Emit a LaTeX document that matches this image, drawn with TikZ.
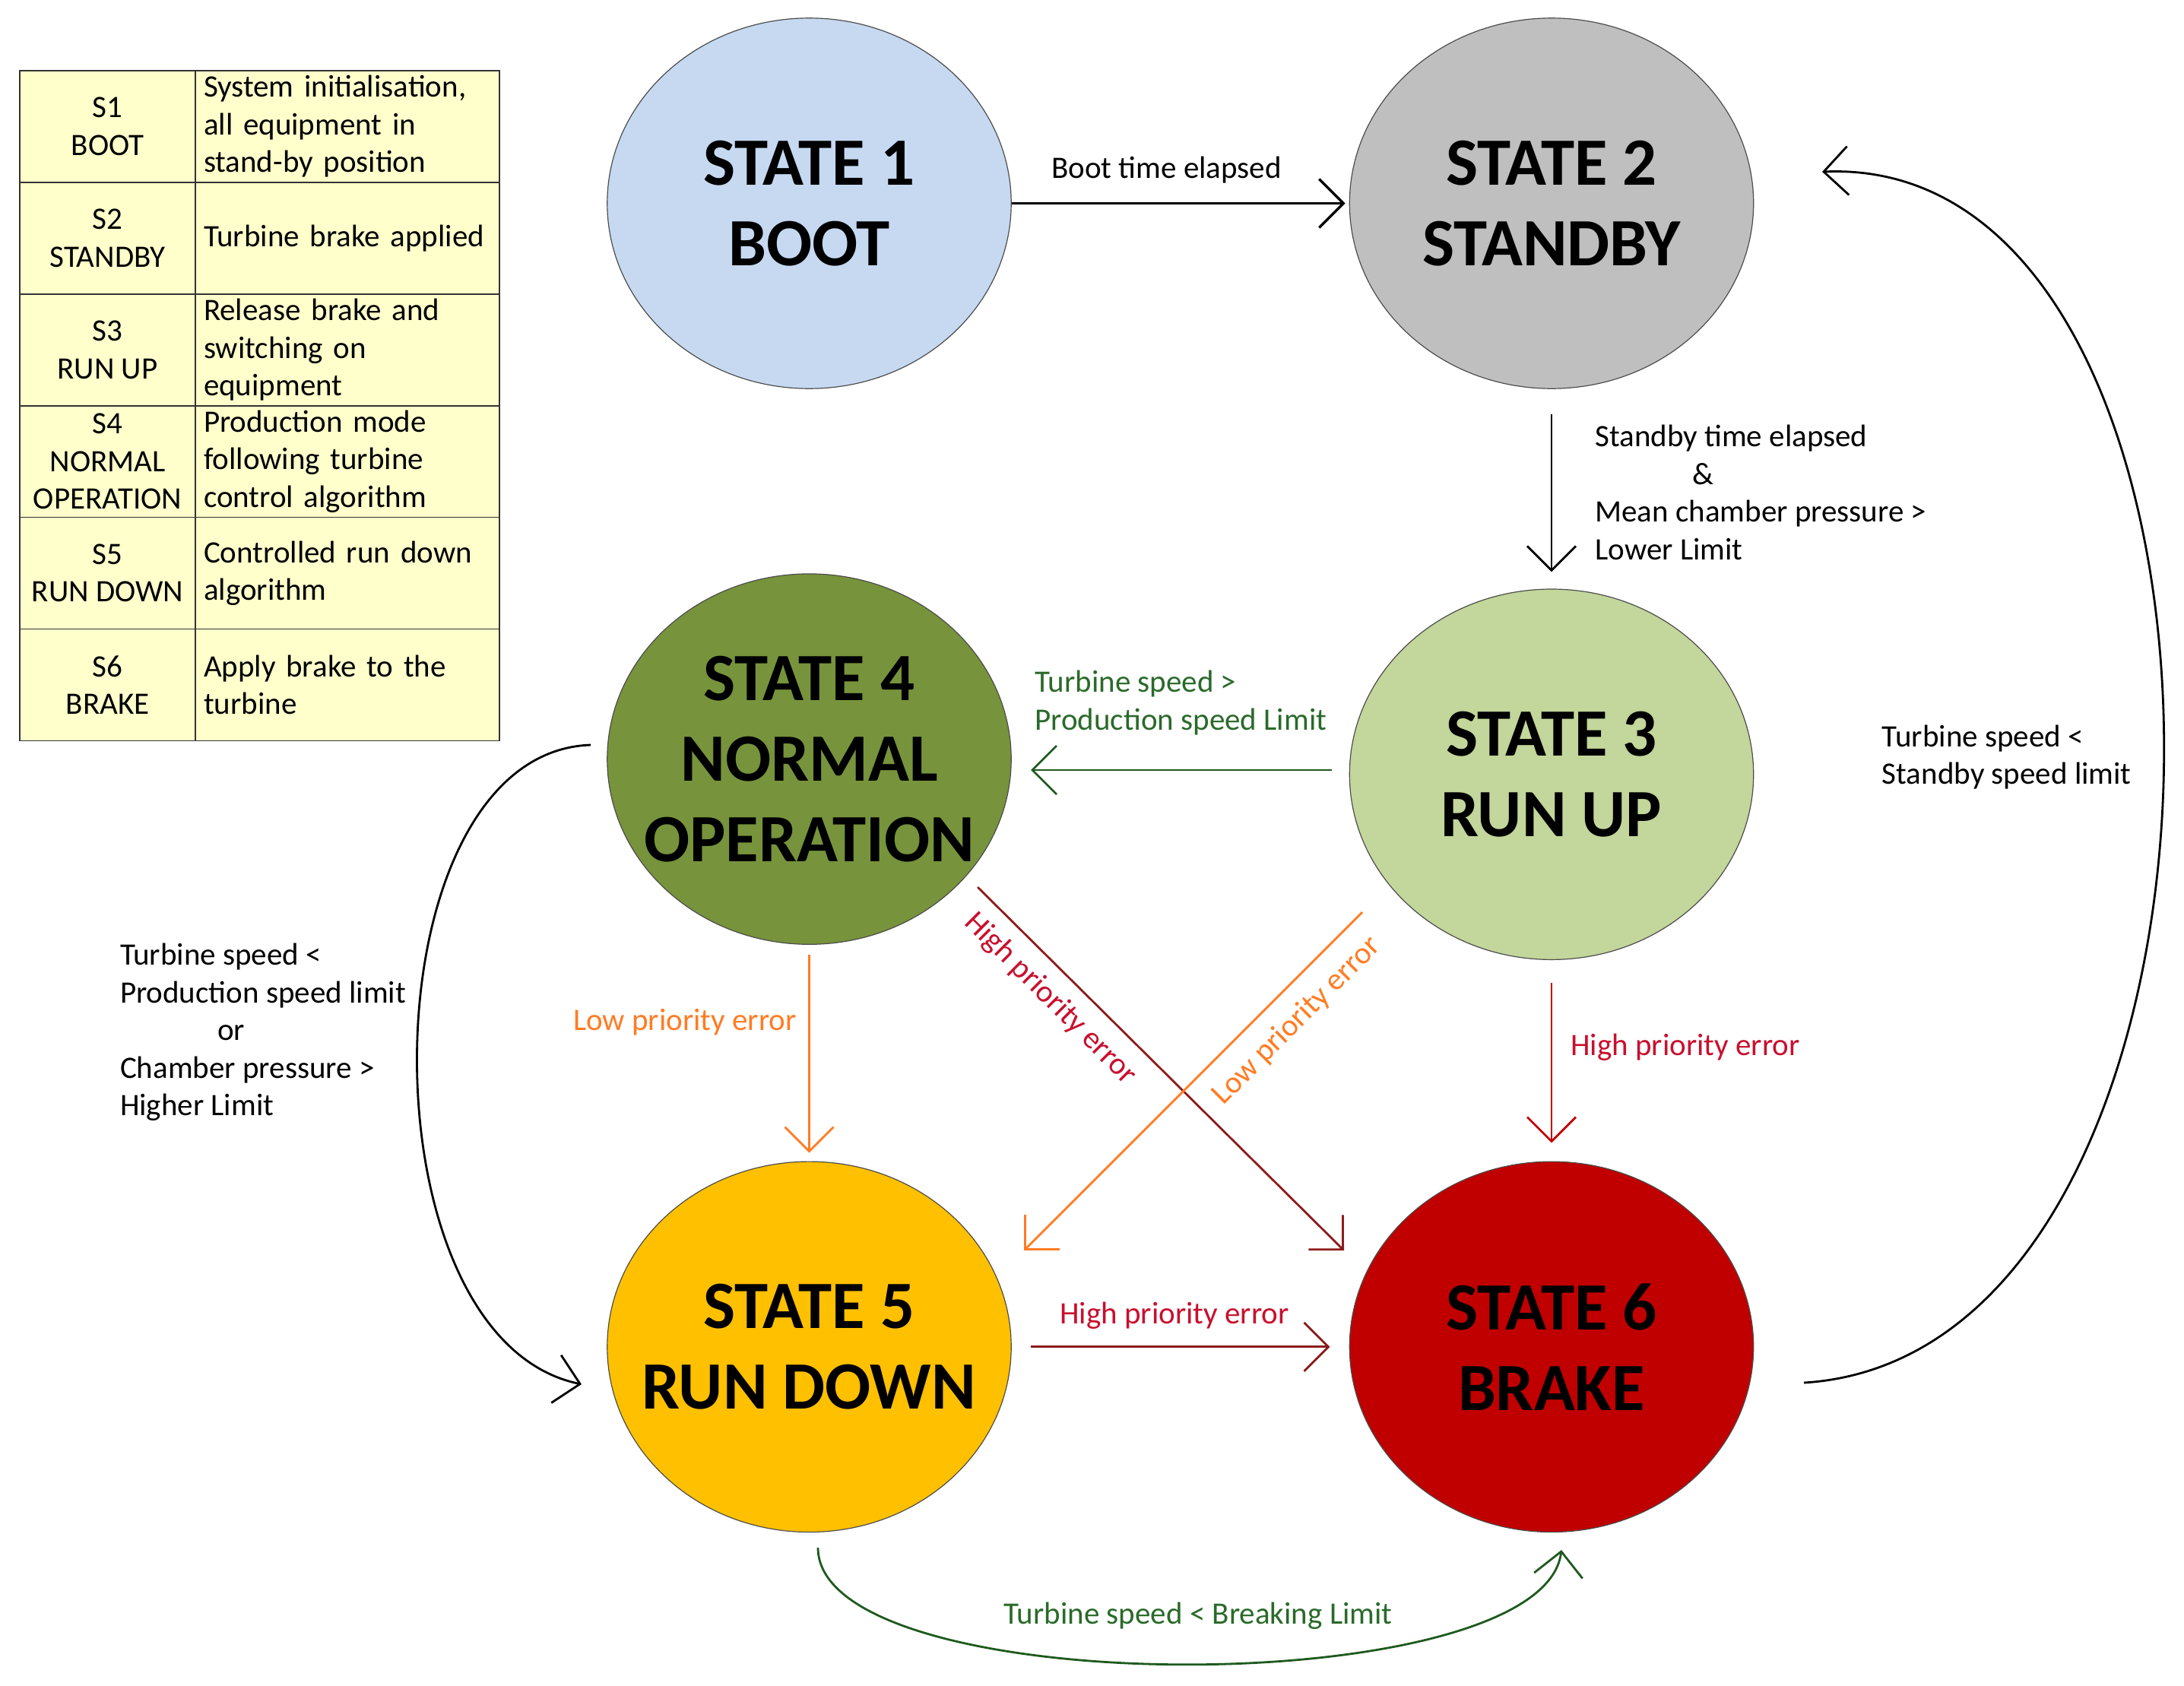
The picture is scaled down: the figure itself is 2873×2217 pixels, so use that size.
\documentclass[tikz,border=0pt]{standalone}
\usepackage{fontspec}
\setmainfont{Carlito}
\usetikzlibrary{shapes.geometric,arrows.meta,calc}
\definecolor{cBoot}{HTML}{C6D9F1}
\definecolor{cStandby}{HTML}{BFBFBF}
\definecolor{cRunUp}{HTML}{C3D69B}
\definecolor{cNormal}{HTML}{77933C}
\definecolor{cRunDown}{HTML}{FFC000}
\definecolor{cBrake}{HTML}{C00000}
\definecolor{tabfill}{HTML}{FFFFCC}
\definecolor{cOrange}{HTML}{FF7C24}
\definecolor{cMaroon}{HTML}{8C1C1C}
\definecolor{cRedTxt}{HTML}{C8102E}
\definecolor{cGreenLine}{HTML}{1E5A1E}
\definecolor{cGreenTxt}{HTML}{2A6A2A}
\begin{document}
\begin{tikzpicture}[x=0.5pt,y=-0.5pt,
  state/.style={ellipse, draw=black!70, line width=0.6pt, minimum width=265.7pt, minimum height=243.7pt, inner xsep=-70pt, inner ysep=0pt, align=center, font=\bfseries\fontsize{44.5}{53}\selectfont},
  lbl/.style={font=\fontsize{20.5}{24.7}\selectfont, inner sep=0pt},
  arr/.style={-{Straight Barb[length=16pt,width=32pt]}, line width=1.4pt},
  cellL/.style={draw=black!80, line width=0.8pt, fill=tabfill, minimum width=115.5pt, minimum height=73.45pt, inner sep=0pt, align=center, font=\fontsize{20.5}{24.7}\selectfont},
  cellR/.style={draw=black!80, line width=0.8pt, fill=tabfill, minimum width=200pt, minimum height=73.45pt, text width=189pt, inner sep=0pt, align=left, font=\fontsize{20.5}{24.7}\selectfont}
]
\useasboundingbox (0,0) rectangle (2873,2217);

% legend table
\node[cellL] (t1a) at (141.5,166.45) {S1\\BOOT};
\node[cellR] (t1b) at (457,166.45) {System initialisation,\\all equipment in\\stand-by position};
\node[cellL] (t2a) at (141.5,313.35) {S2\\STANDBY};
\node[cellR] (t2b) at (457,313.35) {Turbine brake applied};
\node[cellL] (t3a) at (141.5,460.25) {S3\\RUN UP};
\node[cellR] (t3b) at (457,460.25) {Release brake and\\switching on\\equipment};
\node[cellL] (t4a) at (141.5,607.15) {S4\\NORMAL\\OPERATION};
\node[cellR] (t4b) at (457,607.15) {Production mode\\following turbine\\control algorithm};
\node[cellL] (t5a) at (141.5,754.05) {S5\\RUN DOWN};
\node[cellR] (t5b) at (457,754.05) {Controlled run down\\algorithm};
\node[cellL] (t6a) at (141.5,900.95) {S6\\BRAKE};
\node[cellR] (t6b) at (457,900.95) {Apply brake to the\\turbine};

% states
\node[state, fill=cBoot] (s1) at (1064.5,267.5) {STATE 1\\BOOT};
\node[state, fill=cStandby] (s2) at (2041,267.5) {STATE 2\\STANDBY};
\node[state, fill=cRunUp] (s3) at (2041,1018.7) {STATE 3\\RUN UP};
\node[state, fill=cNormal] (s4) at (1064.5,998.6) {STATE 4\\NORMAL\\OPERATION};
\node[state, fill=cRunDown] (s5) at (1064.5,1771.8) {STATE 5\\RUN DOWN};
\node[state, fill=cBrake] (s6) at (2041,1771.8) {STATE 6\\BRAKE};

% straight transitions
\draw[arr, line width=1.7pt, shorten >=2.5pt] (s1) -- (s2);
\draw[arr, shorten <=16.5pt, shorten >=11pt] (s2) -- (s3);
\draw[arr, cGreenLine] ([shift={(-289,-5.7)}]s3.center) -- ([shift={(291.5,14.4)}]s4.center);
\draw[arr, cOrange, shorten <=6.4pt, shorten >=5.5pt] (s4) -- (s5);
\draw[arr, cMaroon] ([shift={(221.5,168.4)}]s4.center) -- ([shift={(-273,-126.8)}]s6.center);
\draw[arr, cOrange] ([shift={(-249,181.3)}]s3.center) -- ([shift={(282.5,-126.8)}]s5.center);
\draw[arr, cBrake, shorten <=14.8pt, shorten >=12pt] (s3) -- (s6);
\draw[arr, cMaroon, shorten <=12.4pt, shorten >=12.6pt] (s5) -- (s6);

% curved transitions
\draw[arr] ([shift={(-287.5,-18.6)}]s4.center) .. controls (480,990) and (470,1760) .. ([shift={(-299.5,49.2)}]s5.center);
\draw[arr] ([shift={(332,47.2)}]s6.center) .. controls (3000,1780) and (3000,200) .. ([shift={(356,-41.5)}]s2.center);
\draw[arr, cGreenLine] ([shift={(11.5,264.2)}]s5.center) .. controls (1076,2240) and (2030,2240) .. ([shift={(13,267.2)}]s6.center);

% labels
\node[lbl] (l12) at (1534.5,223.5) {Boot time elapsed};
\node[lbl, anchor=west, align=left] (l23) at (2098,648) {Standby time elapsed\\\hspace*{64pt}\&\\Mean chamber pressure >\\Lower Limit};
\node[lbl, anchor=west, align=left, text=cGreenTxt] (l34) at (1361,924.4) {Turbine speed >\\Production speed Limit};
\node[lbl, text=cOrange] (l45) at (901,1345) {Low priority error};
\node[lbl, text=cRedTxt, rotate=-45] (l46) at (1382,1314) {High priority error};
\node[lbl, text=cOrange, rotate=45] (l35) at (1706,1343) {Low priority error};
\node[lbl, text=cRedTxt] (l36) at (2217,1378) {High priority error};
\node[lbl, text=cRedTxt] (l56) at (1545,1731) {High priority error};
\node[lbl, anchor=west, align=left] (l45c) at (157.6,1358) {Turbine speed <\\Production speed limit\\\hspace*{64pt}or\\Chamber pressure >\\Higher Limit};
\node[lbl, anchor=west, align=left] (l62) at (2475.5,996) {Turbine speed <\\Standby speed limit};
\node[lbl, text=cGreenTxt] (l56c) at (1576,2125.5) {Turbine speed < Breaking Limit};
\end{tikzpicture}
\end{document}
